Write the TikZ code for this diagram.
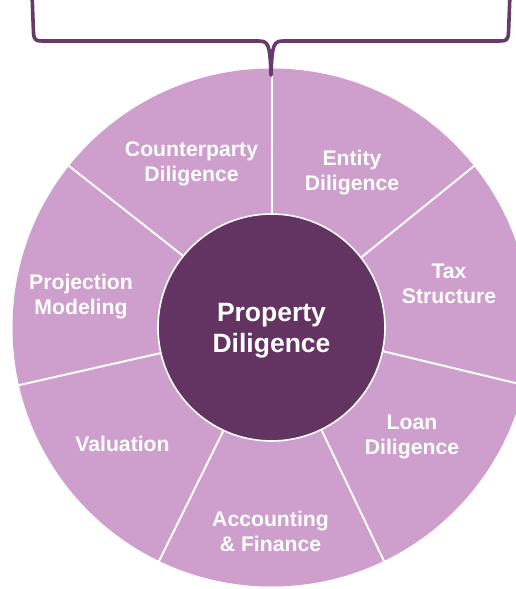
\documentclass[tikz,border=0pt]{standalone}
\usepackage{fontspec}
\setmainfont{Liberation Sans}
\usetikzlibrary{calc}
\definecolor{segfill}{HTML}{CE9ECD}
\definecolor{corefill}{HTML}{633461}
\definecolor{bracecol}{HTML}{673A6B}
\begin{document}
\begin{tikzpicture}[x=1pt,y=1pt,
  seglabel/.style={text=white,font=\bfseries\fontsize{21.2}{25}\selectfont,align=center,inner sep=0pt},
  divider/.style={draw=white,line width=2pt},
  bracestyle/.style={draw=bracecol,line width=3.6pt,line cap=round,line join=round}]
\useasboundingbox (0,0) rectangle (516,589);
\clip (0,0) rectangle (516,589);
\coordinate (C) at (271.5,261.5);
% outer wheel
\fill[segfill] (C) circle (259);
% core
\node[circle,minimum size=227pt,inner sep=0pt,fill=corefill,draw=white,line width=1.6pt] (core) at (C) {};
\node[text=white,font=\bfseries\fontsize{26.5}{31}\selectfont,align=center,inner sep=0pt] (coretext) at ($(C)+(0,-3)$) {Property\\Diligence};
% dividers
\foreach \a [count=\i] in {90,38.571,-12.857,-64.286,-115.714,-167.143,141.429}{
  \coordinate (o\i) at ($(C)+(\a:262)$);
  \draw[divider] (core.\a) -- (o\i);
}
% labels
\node[seglabel] (cp) at (191.5,425) {Counterparty\\Diligence};
\node[seglabel] (en) at (352,416) {Entity\\Diligence};
\node[seglabel] (tx) at (449,305) {Tax\\Structure};
\node[seglabel] (ln) at (412,152.5) {Loan\\Diligence};
\node[seglabel] (ac) at (270.5,57.5) {Accounting\\\& Finance};
\node[seglabel] (va) at (122.5,145) {Valuation};
\node[seglabel] (pm) at (81,292.5) {Projection\\Modeling};
% brace
\coordinate (bl) at (32,595);
\coordinate (br) at (510,595);
\coordinate (bt) at (271,514);
\draw[bracestyle] (bl) -- (33.5,556) .. controls (34,549) and (36,548) .. (42,548) -- (258,548)
   .. controls (268,548) and (270,546) .. (bt);
\draw[bracestyle] (br) -- (508.5,556) .. controls (508,549) and (506,548) .. (500,548) -- (284,548)
   .. controls (274,548) and (272,546) .. (bt);
\end{tikzpicture}
\end{document}
